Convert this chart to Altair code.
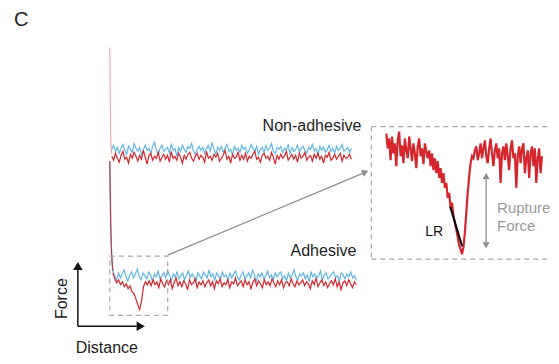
import altair as alt
import pandas as pd
import numpy as np

RED = "#d4262c"
BLUE = "#63b5e6"
DARK = "#222222"
GRAY = "#8c8c8c"
BOX = "#a8a8a8"

# ---- trace data (distance position, force position) ----
na_x_range = [112, 352]
na_blue = [151,147,153,149,155,150,146,152,156,148,151,154,145,150,153,149,157,151,147,152,150,155,148,144,152,156,150,147,153,151,149,155,146,152,150,158,149,153,147,151,154,148,150,145,153,156,151,148,152,149,155,150,147,153,144,151,156,149,152,148,154,150,146,153,151,157,148,152,150,154,147,151,149,155,152,146,150,153,148,156,151,149,154,147,152,150,145,153,155,149,151,148,154,150,152,146,156,149,153,151,147,154,150,148,152,155,149,151,146,153,150,157,148,152,149,154,151,147,153,150,155,148,152,150,146,153,151,149,154,150]
na_red = [158,162,155,160,164,157,153,161,159,165,156,160,154,158,163,157,161,152,159,166,157,155,162,158,160,154,163,159,156,161,157,164,153,160,158,162,155,159,165,157,161,156,154,160,163,158,155,161,157,159,164,153,160,158,162,156,159,155,163,160,157,152,161,158,165,156,160,159,154,162,157,161,155,163,158,160,156,153,161,159,164,157,155,160,158,162,154,159,166,157,161,156,160,158,153,162,159,156,161,157,164,155,160,158,154,162,159,157,163,156,160,155,161,158,165,157,159,154,162,160,156,161,158,155,163,157,160,159,156,161]
na_spike_x = [110, 110.4, 110.8, 111.3, 112]
na_spike_y = [48, 95, 135, 150, 156]

ad_x_range = [113, 357]
ad_blue = [274,279,283,276,281,277,273,280,284,278,275,281,277,272,280,283,276,279,282,275,278,285,277,280,274,282,279,276,281,273,278,284,277,280,275,282,279,276,283,278,274,281,277,280,285,276,279,282,275,278,281,273,280,277,283,276,279,282,275,280,278,284,276,281,277,274,280,283,278,275,282,279,276,281,273,278,285,277,280,276,282,279,274,281,278,283,276,280,277,275,282,279,284,276,281,278,273,280,283,277,279,276,282,278,285,275,280,277,281,279,274,283,278,276,282,280,277,275,281,279,284,276,278,282,277,280,275,281,279,283]
ad_red = [276,282,286,283,288,285,290,287,292,289,295,297,302,308,313,304,290,285,288,284,289,
          283,288,285,291,282,287,290,284,288,283,292,286,281,289,285,290,284,287,293,283,288,286,282,291,285,288,284,290,286,283,289,285,292,284,287,282,290,286,288,283,291,285,287,281,289,286,284,290,283,288,285,292,286,282,289,284,287,291,283,288,285,289,282,286,290,284,288,283,291,286,285,289,282,287,290,284,288,286,283,289,285,287,292,284,288,281,290,286,283,289,285,291,287,284,288,282,290,285,293,286,284,289,283,287,291,285,288]
ad_spike_x = [110, 110.5, 111, 111.6, 112.3, 113]
ad_spike_y = [163, 200, 232, 252, 265, 274]

inset_x_range = [387, 543]
inset_red = [135,150,140,162,138,155,145,168,142,133,158,147,165,140,152,160,138,150,163,145,155,170,148,140,158,150,166,145,153,160,
             152,168,155,172,160,175,163,180,170,185,175,190,
             185,200,195,210,205,218,225,232,240,248,252,257,
             250,235,215,195,178,165,158,160,152,
             148,162,155,145,160,150,142,158,165,150,140,155,168,152,145,160,150,185,155,148,162,145,158,172,150,142,160,155,190,158,148,165,150,145,175,160,152,180,155,148,168,150,185,160,150,175,158]

lr_x = [451, 463]
lr_y = [209, 249]

small_box = {"x": 110, "x2": 168, "y": 259, "y2": 319}
big_box = {"x": 372, "x2": 551, "y": 128, "y2": 262}  # right side runs off the page

xs = alt.Scale(domain=[8, 551], nice=False, zero=False)
ys = alt.Scale(domain=[356, 8], nice=False, zero=False)


def X(f="x"):
    return alt.X(f"{f}:Q", scale=xs, axis=None)


def Y(f="y"):
    return alt.Y(f"{f}:Q", scale=ys, axis=None)


def trace(xr, vals):
    xv = np.linspace(xr[0], xr[1], len(vals))
    return pd.DataFrame({"x": xv, "y": vals, "i": range(len(vals))})


def pts(xv, yv):
    return pd.DataFrame({"x": xv, "y": yv, "i": range(len(xv))})


def line(df, color, width=1.0, opacity=1.0):
    return alt.Chart(df).mark_line(color=color, strokeWidth=width, opacity=opacity,
                                   strokeJoin="miter").encode(
        x=X(), y=Y(), order="i:Q")


def rule(x1, y1, x2, y2, color, width=1.2, dash=None):
    kw = dict(color=color, strokeWidth=width)
    if dash:
        kw["strokeDash"] = dash
    return alt.Chart(pd.DataFrame({"x": [x1], "y": [y1], "x2": [x2], "y2": [y2]})).mark_rule(**kw).encode(
        x=X(), y=Y(), x2="x2:Q", y2="y2:Q")


def head(x, y, angle, color, size):
    return alt.Chart(pd.DataFrame({"x": [x], "y": [y]})).mark_point(
        shape="triangle-up", filled=True, color=color, size=size, angle=angle, opacity=1).encode(
        x=X(), y=Y())


def box(b):
    return alt.Chart(pd.DataFrame([b])).mark_rect(
        filled=False, stroke=BOX, strokeWidth=1.2, strokeDash=[5, 4]).encode(
        x=X(), x2="x2:Q", y=Y(), y2="y2:Q")


def open_box(b):
    d = [5, 4]
    return [
        rule(b["x"], b["y"], b["x2"], b["y"], BOX, 1.2, d),
        rule(b["x"], b["y2"], b["x2"], b["y2"], BOX, 1.2, d),
        rule(b["x"], b["y"], b["x"], b["y2"], BOX, 1.2, d),
    ]


def text(x, y, s, size=16, color=DARK, align="center", angle=0):
    return alt.Chart(pd.DataFrame({"x": [x], "y": [y], "t": [s]})).mark_text(
        font="Liberation Sans", fontSize=size, color=color, align=align, baseline="middle",
        angle=angle).encode(x=X(), y=Y(), text="t:N")


layers = [
    # non-adhesive
    line(pts(na_spike_x, na_spike_y), "#ee9a9a", 1.0),
    line(trace(na_x_range, na_blue), BLUE, 1.2),
    line(trace(na_x_range, na_red), RED, 1.2),
    # adhesive
    line(pts(ad_spike_x, ad_spike_y), BLUE, 1.4),
    line(trace(ad_x_range, ad_blue), BLUE, 1.2),
    line(pts(ad_spike_x, ad_spike_y), RED, 1.0),
    line(trace(ad_x_range, ad_red), RED, 1.2),
    # boxes and connector
    box(small_box),
    *open_box(big_box),
    rule(168, 258, 364, 175, GRAY, 1.2),
    head(366, 174, 67, GRAY, 55),
    # inset
    line(trace(inset_x_range, inset_red), RED, 2.2),
    line(pts(lr_x, lr_y), "#000000", 2.0),
    rule(487, 181, 487, 245, GRAY, 1.3),
    head(487, 178, 0, GRAY, 50),
    head(487, 248, 180, GRAY, 50),
    # axis arrows
    rule(78, 330, 78, 273, "#111111", 1.5),
    head(78, 269, 0, "#111111", 90),
    rule(78, 330, 137, 330, "#111111", 1.5),
    head(141, 330, 90, "#111111", 90),
    # texts
    text(14, 20, "C", size=20, align="left"),
    text(362, 127, "Non-adhesive", size=16, align="right"),
    text(357, 254, "Adhesive", size=16, align="right"),
    text(435, 235, "LR", size=14, color="#111111"),
    text(498, 210, "Rupture", size=15, color="#999999", align="left"),
    text(498, 229, "Force", size=15, color="#999999", align="left"),
    text(62, 302, "Force", size=16, angle=270),
    text(107, 352, "Distance", size=16),
]

chart = alt.layer(*layers).properties(
    width=543, height=348, padding=0,
    autosize=alt.AutoSizeParams(type="fit", contains="padding"),
).configure_view(stroke=None)

chart.save("out.html", embed_options={"renderer": "svg", "actions": False})
